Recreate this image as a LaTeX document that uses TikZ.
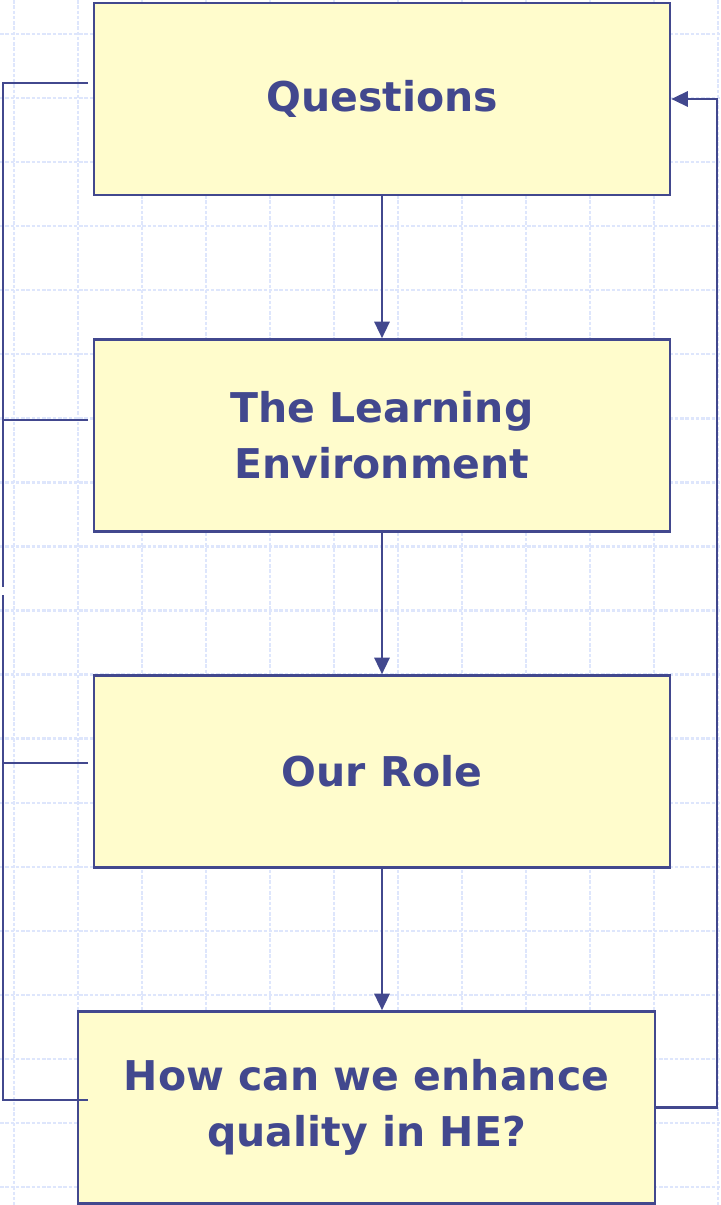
\documentclass[tikz,border=0pt]{standalone}
\usepackage{fontspec}
\setmainfont{DejaVu Sans}
\usetikzlibrary{arrows.meta,calc,positioning}
\definecolor{boxblue}{RGB}{66,72,142}
\definecolor{boxfill}{RGB}{255,252,204}
\definecolor{gridblue}{RGB}{222,230,252}
\tikzset{
  stage/.style={draw=boxblue,line width=2.2pt,fill=boxfill,minimum width=17.28cm,minimum height=5.76cm,inner sep=0pt,align=center,text=boxblue,font=\fontsize{35}{48}\selectfont\bfseries},
  flow/.style={draw=boxblue,line width=2pt,-{Triangle[length=0.5cm,width=0.46cm]}},
  link/.style={draw=boxblue,line width=2pt},
  gridline/.style={draw=gridblue,line width=2pt,dash pattern=on 3pt off 1.5pt}
}

\begin{document}
\begin{tikzpicture}[x=0.03cm,y=-0.03cm]
		\useasboundingbox (0,0) rectangle (720,1205);
		% background grid
		\foreach \x in {0,...,11}
		\draw[gridline] (14+64*\x,0) -- (14+64*\x,1205);
		\foreach \y in {0,...,18}
		\draw[gridline] (0,34+64.06*\y) -- (720,34+64.06*\y);
		% stages
		\node[stage] (quest) at (382,99) {Questions};
		\node[stage] (env) at (382,435.5) {The Learning\\Environment};
		\node[stage] (role) at (382,771.5) {Our Role};
		\node[stage,minimum width=17.31cm] (enh) at (366.5,1107.5) {How can we enhance\\quality in HE?};
		% downward flow
		\draw[flow] (quest) -- (env);
		\draw[flow] (env) -- (role);
		\draw[flow] (role.south) -- (role.south |- enh.north);
		% left brackets
		\coordinate (questin) at (88,83);
		\coordinate (envin) at (88,420);
		\coordinate (rolein) at (88,763);
		\coordinate (enhin) at (88,1100);
		\coordinate (lbendA) at (3,587);
		\coordinate (lbendB) at (3,595);
		\draw[link] (questin) -| (lbendA);
		\draw[link] (envin) -- (envin -| lbendA);
		\draw[link] (lbendB) |- (enhin);
		\draw[link] (rolein) -- (rolein -| lbendB);
		% feedback to the top
		\coordinate (rbend) at (717,600);
		\draw[flow] (enh.east) -| (rbend) |- (quest.east);
\end{tikzpicture}
\end{document}
